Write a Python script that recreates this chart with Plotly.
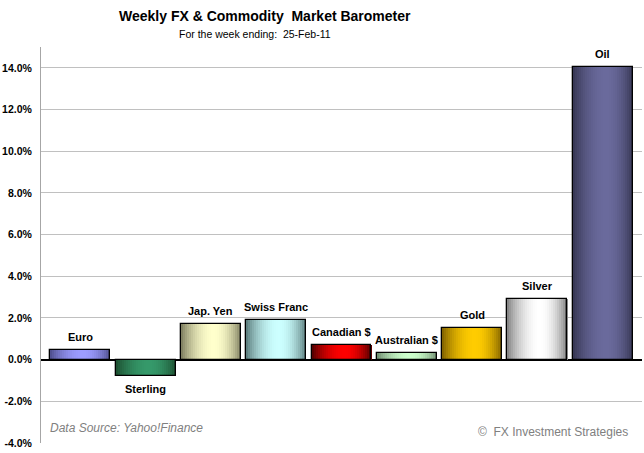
import plotly.graph_objects as go
import math

# ---- data ----
categories = ["Euro", "Sterling", "Jap. Yen", "Swiss Franc", "Canadian $",
              "Australian $", "Gold", "Silver", "Oil"]
weekly_change_pct = [0.48, -0.78, 1.72, 1.88, 0.72, 0.34, 1.53, 2.92, 14.03]
edge_colors = ["#4a4a86", "#1b4a2c", "#77775a", "#557575", "#4a0000",
               "#6b866b", "#7a5c00", "#7c7c7c", "#33334f"]
center_colors = ["#9c9cff", "#35996a", "#ffffcc", "#ccffff", "#ff0000",
                 "#ccffcc", "#ffcc00", "#ffffff", "#6a6a9c"]
tick_values = [-4, -2, 0, 2, 4, 6, 8, 10, 12, 14]
tick_labels = [f"{v:.1f}%" for v in tick_values]

title_text = "Weekly FX & Commodity  Market Barometer"
subtitle_text = "For the week ending:  25-Feb-11"
source_text = "Data Source: Yahoo!Finance"
copyright_text = "©  FX Investment Strategies"


def hex_to_rgb(h):
    h = h.lstrip("#")
    return tuple(int(h[i:i + 2], 16) for i in (0, 2, 4))


def mix(c1, c2, f):
    a, b = hex_to_rgb(c1), hex_to_rgb(c2)
    return "rgb({},{},{})".format(*[round(a[i] + (b[i] - a[i]) * f) for i in range(3)])


xs = list(range(len(categories)))
BAR_W = 0.918
N_SLICES = 30
slice_w = BAR_W / N_SLICES

fig = go.Figure()

# gradient shading: each bar is built of thin vertical bar slices
for k in range(N_SLICES):
    t = (k + 0.5) / N_SLICES
    # brightest slightly right of centre, darker at edges
    if t < 0.55:
        f = math.sin(math.pi / 2 * t / 0.55)
    else:
        f = math.sin(math.pi / 2 * (1 - t) / 0.45)
    f = f ** 0.8
    colors = [mix(e, c, f) for e, c in zip(edge_colors, center_colors)]
    fig.add_trace(go.Bar(
        x=xs, y=weekly_change_pct,
        width=slice_w * 1.05,
        offset=-BAR_W / 2 + k * slice_w,
        marker=dict(color=colors, line=dict(width=0)),
        hoverinfo="skip", showlegend=False,
    ))

# outline
fig.add_trace(go.Bar(
    x=xs, y=weekly_change_pct, width=BAR_W,
    marker=dict(color="rgba(0,0,0,0)", line=dict(color="black", width=1.3)),
    text=categories, hoverinfo="text+y", showlegend=False,
    textposition="none",
))

# bar labels
for i, (name, v) in enumerate(zip(categories, weekly_change_pct)):
    fig.add_annotation(
        x=i, y=v, text=name, showarrow=False,
        yanchor="bottom" if v >= 0 else "top",
        yshift=5 if v >= 0 else -5,
        font=dict(family="Arial", size=11, color="black", weight="bold"),
    )

# titles
fig.add_annotation(xref="paper", yref="paper", x=(265 - 41) / 601, y=1,
                   xanchor="center", yanchor="middle", yshift=31,
                   text=title_text, showarrow=False,
                   font=dict(family="Arial", size=14, color="black", weight="bold"))
fig.add_annotation(xref="paper", yref="paper", x=(255 - 41) / 601, y=1,
                   xanchor="center", yanchor="middle", yshift=13,
                   text=subtitle_text, showarrow=False,
                   font=dict(family="Arial", size=10.5, color="black"))
fig.add_annotation(xref="paper", yref="paper", x=(48 - 41) / 601, y=0,
                   xanchor="left", yanchor="middle", yshift=15,
                   text=f"<i>{source_text}</i>", showarrow=False,
                   font=dict(family="Arial", size=12, color="#808080"))
fig.add_annotation(xref="paper", yref="paper", x=(630 - 41) / 601, y=0,
                   xanchor="right", yanchor="middle", yshift=11,
                   text=copyright_text, showarrow=False,
                   font=dict(family="Arial", size=12, color="#808080"))

fig.update_layout(
    width=644, height=453,
    margin=dict(l=41, r=2, t=47, b=10),
    paper_bgcolor="white", plot_bgcolor="white",
    barmode="overlay", bargap=0,
    showlegend=False,
    xaxis=dict(range=[-0.6, 8.6], showticklabels=False, showgrid=False,
               zeroline=False, showline=False, fixedrange=True,
               automargin=False),
    yaxis=dict(range=[-4, 15], tickvals=tick_values, ticktext=tick_labels,
               showgrid=True, gridcolor="#c0c0c0", gridwidth=1,
               zeroline=True, zerolinecolor="black", zerolinewidth=1.5,
               showline=True, linecolor="#a6a6a6", linewidth=1,
               ticks="", ticklabelstandoff=6, automargin=False,
               tickfont=dict(family="Arial", size=10.5, color="black", weight="bold")),
)

fig.write_html("out.html")
